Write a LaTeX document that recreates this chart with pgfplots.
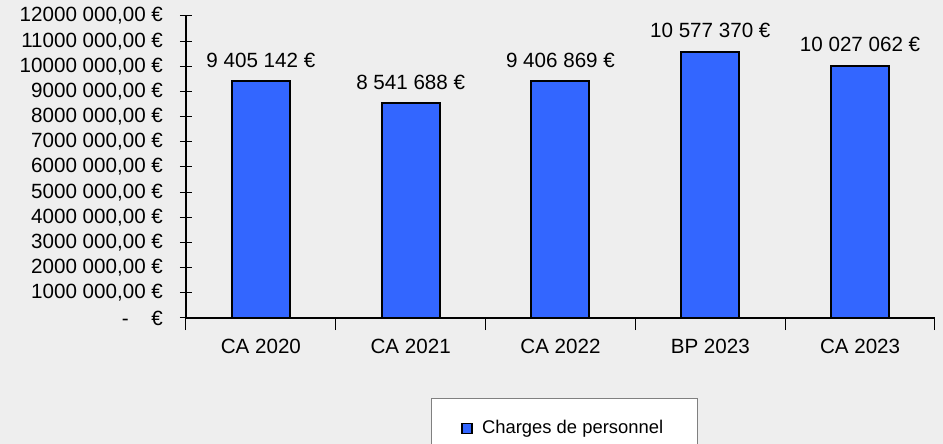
\documentclass[border=0pt]{standalone}
\usepackage{fontspec}
\setmainfont{Liberation Sans}
\usepackage{pgfplots}
\pgfplotsset{compat=1.18}
\definecolor{bg}{HTML}{EEEEEE}
\definecolor{barblue}{HTML}{3366FF}
\begin{document}
\begin{tikzpicture}[font=\fontsize{10.3}{12}\selectfont]
\useasboundingbox (-93pt,-63pt) rectangle (378.5pt,159pt);
\fill[bg] (-93pt,-63pt) rectangle (378.5pt,159pt);
\begin{axis}[
  at={(0,0)}, anchor=south west,
  scale only axis, width=374.5pt, height=151pt,
  xmin=-0.5, xmax=4.5, ymin=0, ymax=12000000,
  axis x line*=bottom, axis y line*=left,
  axis line style={black, line width=0.6pt},
  xtick={0,1,2,3,4},
  xticklabels={CA 2020,CA 2021,CA 2022,BP 2023,CA 2023},
  major x tick style={draw=none},
  minor xtick={-0.5,0.5,1.5,2.5,3.5,4.5},
  ytick={0,1000000,2000000,3000000,4000000,5000000,6000000,7000000,8000000,9000000,10000000,11000000,12000000},
  yticklabels={{-\hspace{1.1em}€},{1000 000,00 €},{2000 000,00 €},{3000 000,00 €},{4000 000,00 €},{5000 000,00 €},{6000 000,00 €},{7000 000,00 €},{8000 000,00 €},{9000 000,00 €},{10000 000,00 €},{11000 000,00 €},{12000 000,00 €}},
  scaled y ticks=false,
  tick align=center, major tick length=6pt, minor tick length=6pt,
  tick style={black, line width=0.5pt},
  yticklabel style={anchor=east, xshift=-5pt},
  xticklabel style={yshift=-1pt},
  ybar, bar width=29pt,
  nodes near coords, point meta=explicit symbolic,
  every node near coord/.append style={yshift=3pt, font=\fontsize{10.3}{12}\selectfont},
  legend style={at={(0.505,0)}, anchor=north, yshift=-40pt, draw=gray, fill=white,
    line width=0.5pt, inner xsep=15pt, inner ysep=9pt, font=\fontsize{9.2}{11}\selectfont},
  legend image code/.code={\draw[fill=barblue,draw=black,line width=0.8pt] (0pt,-2.5pt) rectangle (5pt,2.5pt); \path[draw=none,fill=none] (0pt,0pt) -- (8pt,0pt);},
]
\addplot[fill=barblue, draw=black, line width=1pt] coordinates {
  (0,9405142) [9 405 142 €]
  (1,8541688) [8 541 688 €]
  (2,9406869) [9 406 869 €]
  (3,10577370) [10 577 370 €]
  (4,10027062) [10 027 062 €]
};
\addlegendentry{Charges de personnel}
\end{axis}
\end{tikzpicture}
\end{document}
